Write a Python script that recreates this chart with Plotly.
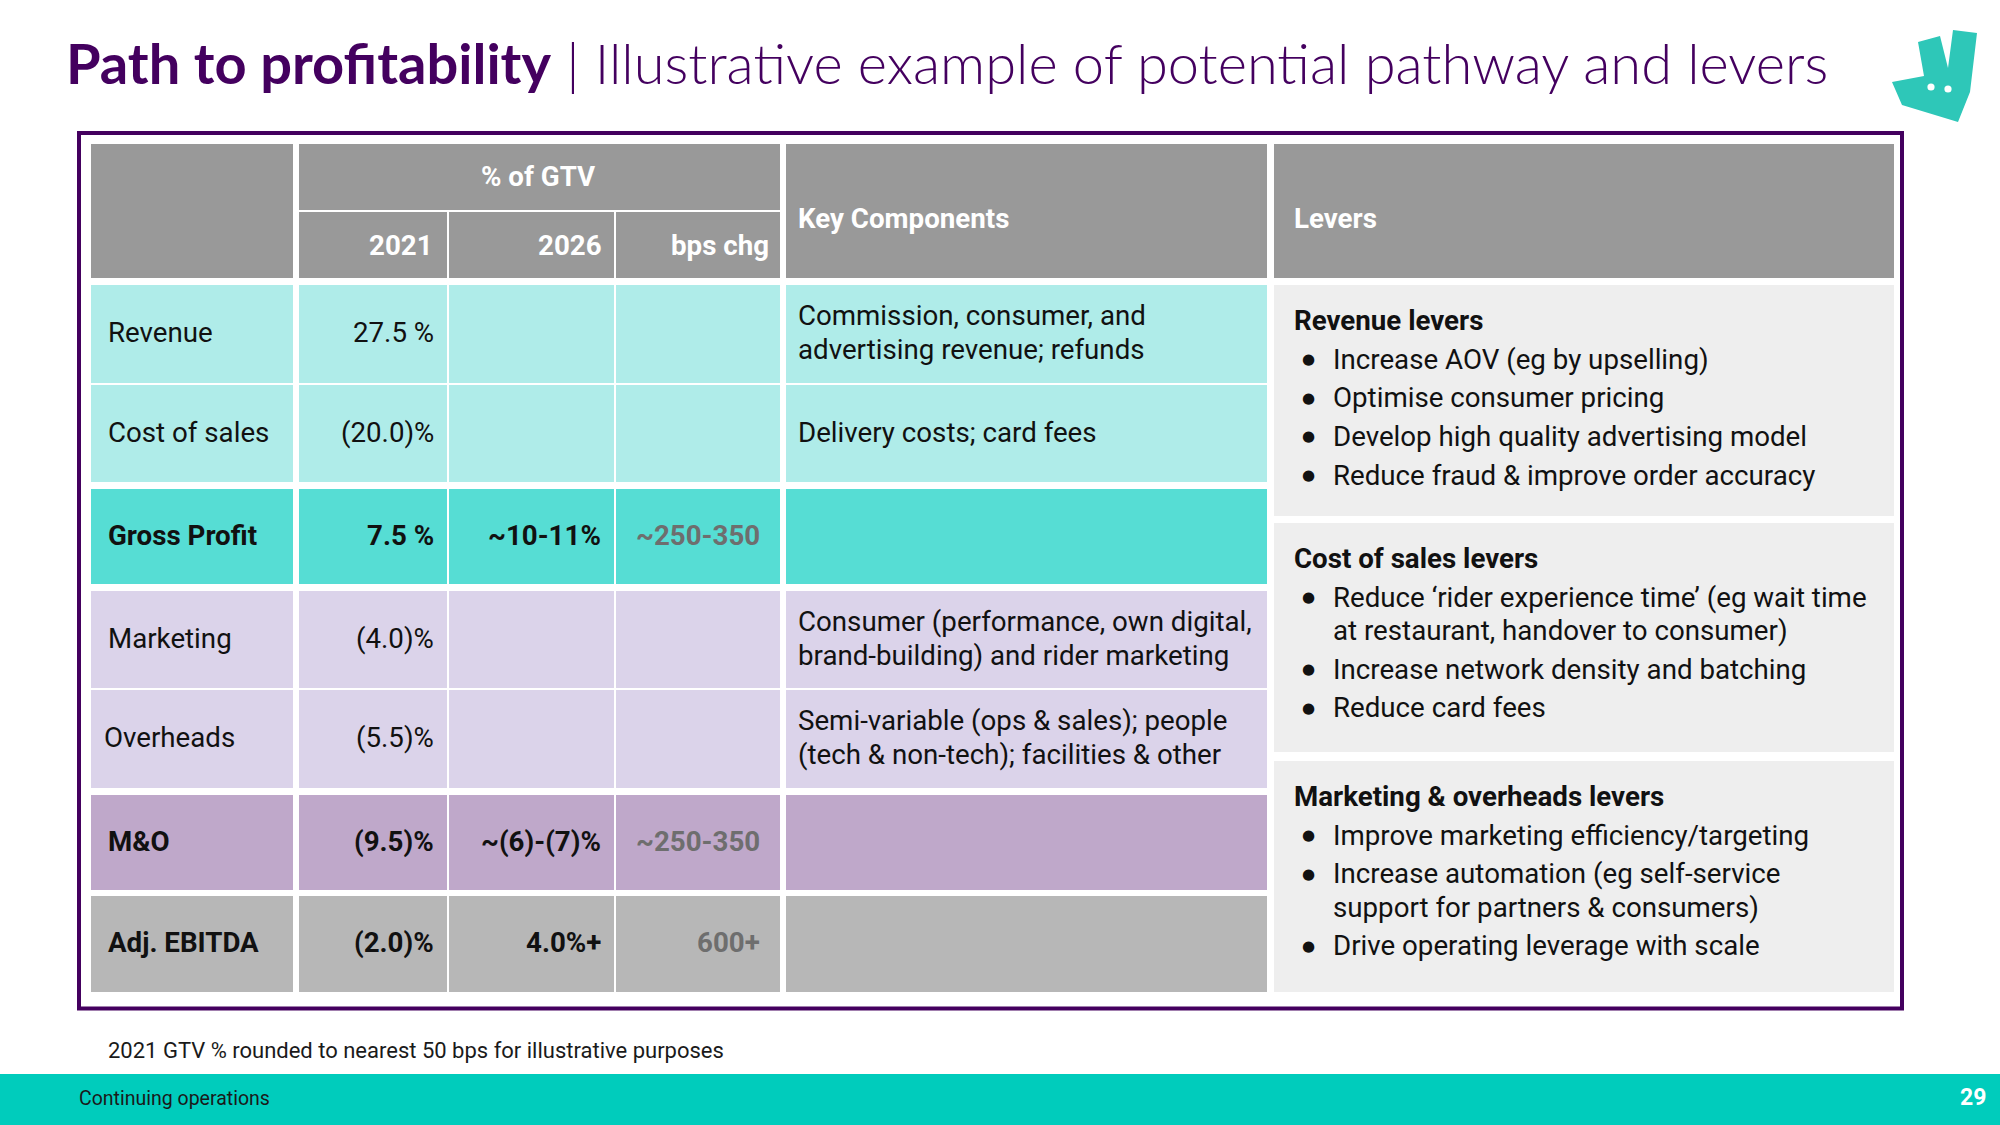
import plotly.graph_objects as go

# ---------------- data ----------------
row_labels = ["Revenue", "Cost of sales", "Gross Profit", "Marketing", "Overheads", "M&O", "Adj. EBITDA"]
val_2021 = ["27.5 %", "(20.0)%", "7.5 %", "(4.0)%", "(5.5)%", "(9.5)%", "(2.0)%"]
val_2026 = ["", "", "~10-11%", "", "", "~(6)-(7)%", "4.0%+"]
bps_chg = ["", "", "~250-350", "", "", "~250-350", "600+"]
key_components = [
    ["Commission, consumer, and", "advertising revenue; refunds"],
    ["Delivery costs; card fees"],
    [],
    ["Consumer (performance, own digital,", "brand-building) and rider marketing"],
    ["Semi-variable (ops & sales); people", "(tech & non-tech); facilities & other"],
    [],
    [],
]
row_bold = [False, False, True, False, False, True, True]
header_span = "% of GTV"
header_years = ["2021", "2026", "bps chg"]
header_key = "Key Components"
header_levers = "Levers"
lever_titles = ["Revenue levers", "Cost of sales levers", "Marketing & overheads levers"]
lever_items = [
    [["Increase AOV (eg by upselling)"], ["Optimise consumer pricing"],
     ["Develop high quality advertising model"], ["Reduce fraud & improve order accuracy"]],
    [["Reduce \u2018rider experience time\u2019 (eg wait time", "at restaurant, handover to consumer)"],
     ["Increase network density and batching"], ["Reduce card fees"]],
    [["Improve marketing efficiency/targeting"],
     ["Increase automation (eg self-service", "support for partners & consumers)"],
     ["Drive operating leverage with scale"]],
]
title_bold = "Path to profitability"
title_rest = " | Illustrative example of potential pathway and levers"
footnote = "2021 GTV % rounded to nearest 50 bps for illustrative purposes"
footer_left = "Continuing operations"
page_no = "29"

# ---------------- style / layout ----------------
W, H = 2000, 1125
PURPLE = "#44005f"
TEAL = "#00ccbc"
HEAD_GRAY = "#999999"
row_fill = ["#afece9", "#afece9", "#56ddd4", "#dbd3ea", "#dbd3ea", "#bfa8ca", "#b7b7b7"]
LEVER_BG = "#eeeeee"
FONT = "Roboto"
FS = 27.7
DY = -1.5  # small vertical text nudge

cols = [(91, 293), (299, 447), (449, 614), (616, 780), (786, 1267), (1274, 1894)]
rows = [(285, 383), (385, 482), (489, 584), (591, 688), (690, 788), (795, 890), (896, 992)]
lever_panels = [(285, 516), (523, 752), (761, 992)]
HEAD_TOP, HEAD_SPLIT_A, HEAD_SPLIT_B, HEAD_BOT = 144, 210, 212, 278

shapes = []
annotations = []


def rect(x0, y0, x1, y1, fill, line_color=None, line_width=0):
    shapes.append(dict(type="rect", xref="x", yref="y", x0=x0, y0=y0, x1=x1, y1=y1,
                       fillcolor=fill, line=dict(color=line_color or fill, width=line_width),
                       layer="below"))


def text(x, y, s, size=FS, color="#111111", anchor="left", bold=False, family=FONT, weight=None):
    f = dict(family=family, size=size, color=color)
    if weight is not None:
        f["weight"] = weight
    annotations.append(dict(x=x, y=y, xref="x", yref="y", text=("<b>%s</b>" % s) if bold else s,
                            showarrow=False, xanchor=anchor, yanchor="middle", font=f,
                            align=anchor if anchor != "center" else "center"))


# header
rect(cols[0][0], HEAD_TOP, cols[0][1], HEAD_BOT, HEAD_GRAY)
rect(cols[1][0], HEAD_TOP, cols[3][1], HEAD_SPLIT_A, HEAD_GRAY)
for c in (1, 2, 3):
    rect(cols[c][0], HEAD_SPLIT_B, cols[c][1], HEAD_BOT, HEAD_GRAY)
rect(cols[4][0], HEAD_TOP, cols[4][1], HEAD_BOT, HEAD_GRAY)
rect(cols[5][0], HEAD_TOP, cols[5][1], HEAD_BOT, HEAD_GRAY)

text((cols[1][0] + cols[3][1]) / 2 - 2, (HEAD_SPLIT_A + HEAD_TOP) / 2 + 1 + DY, header_span, color="white", anchor="center", bold=True)
for c, lab, off in zip((1, 2, 3), header_years, (11.7, 10.5, 9)):
    text(cols[c][1] - off, (HEAD_SPLIT_B + HEAD_BOT) / 2 + 2 + DY, lab, color="white", anchor="right", bold=True)
text(cols[4][0] + 10, 220 + DY, header_key, color="white", bold=True)
text(cols[5][0] + 18, 220 + DY, header_levers, color="white", bold=True)

# body rows
for i, (y0, y1) in enumerate(rows):
    for c in range(5):
        rect(cols[c][0], y0, cols[c][1], y1, row_fill[i])
    yc = (y0 + y1) / 2 + DY
    b = row_bold[i]
    lx = cols[0][0] + (11 if row_labels[i] == "Overheads" else 15)
    text(lx, yc, row_labels[i], bold=b)
    text(cols[1][1] - 11.5, yc, val_2021[i], anchor="right", bold=b)
    if val_2026[i]:
        text(cols[2][1] - 11.5, yc, val_2026[i], anchor="right", bold=b)
    if bps_chg[i]:
        text(cols[3][1] - 17.7, yc, bps_chg[i], anchor="right", bold=True, color="#6e6e6e")
    lines = key_components[i]
    n = len(lines)
    for k, ln in enumerate(lines):
        text(cols[4][0] + 10, yc + (k - (n - 1) / 2) * 34, ln)

# lever panels
for p, (y0, y1) in enumerate(lever_panels):
    rect(cols[5][0], y0, cols[5][1], y1, LEVER_BG)
    y = y0 + 35
    text(cols[5][0] + 18, y, lever_titles[p], bold=True)
    y += 39
    for item in lever_items[p]:
        text(1308, y, "\u25cf", size=15, anchor="center", family="DejaVu Sans")
        for k, ln in enumerate(item):
            text(1330.5, y + k * 33.5, ln)
        y += 38.7 + (len(item) - 1) * 33.5

# purple frame
shapes.append(dict(type="rect", xref="x", yref="y", x0=79, y0=133, x1=1902, y1=1008.5,
                   fillcolor="rgba(0,0,0,0)", line=dict(color=PURPLE, width=4), layer="above"))

# title
text(64, 62, "<b>%s</b>%s" % (title_bold, title_rest), size=56, color=PURPLE, family="Lato", weight=300)

# logo
shapes.append(dict(type="path", xref="x", yref="y",
                   path="M 1892,82 L 1924,76 L 1918,42 L 1940,36 L 1948,68 L 1953,30 L 1977,33 "
                        "L 1970,92 L 1958,122 L 1902,105 Z",
                   fillcolor="#2ec7b8", line=dict(width=0)))
for cx, cy in ((1931, 87), (1948, 89)):
    shapes.append(dict(type="circle", xref="x", yref="y", x0=cx - 3.6, y0=cy - 3.6, x1=cx + 3.6, y1=cy + 3.6,
                       fillcolor="white", line=dict(width=0)))

# footnote & footer
text(106, 1050, footnote, size=22, color="#1a1a1a")
rect(0, 1074, W, H, TEAL)
text(77, 1098, footer_left, size=19.5, color="#1a1a1a")
text(1988, 1097, page_no, size=23, color="white", anchor="right", bold=True)

fig = go.Figure()
fig.update_layout(
    width=W, height=H, margin=dict(l=0, r=0, t=0, b=0),
    paper_bgcolor="white", plot_bgcolor="white",
    xaxis=dict(range=[0, W], visible=False, fixedrange=True),
    yaxis=dict(range=[H, 0], visible=False, fixedrange=True),
    shapes=shapes, annotations=annotations, showlegend=False,
)
fig.write_html("out.html", config={"displayModeBar": False},
               post_script="document.body.style.margin='0';document.body.style.overflow='hidden';")
